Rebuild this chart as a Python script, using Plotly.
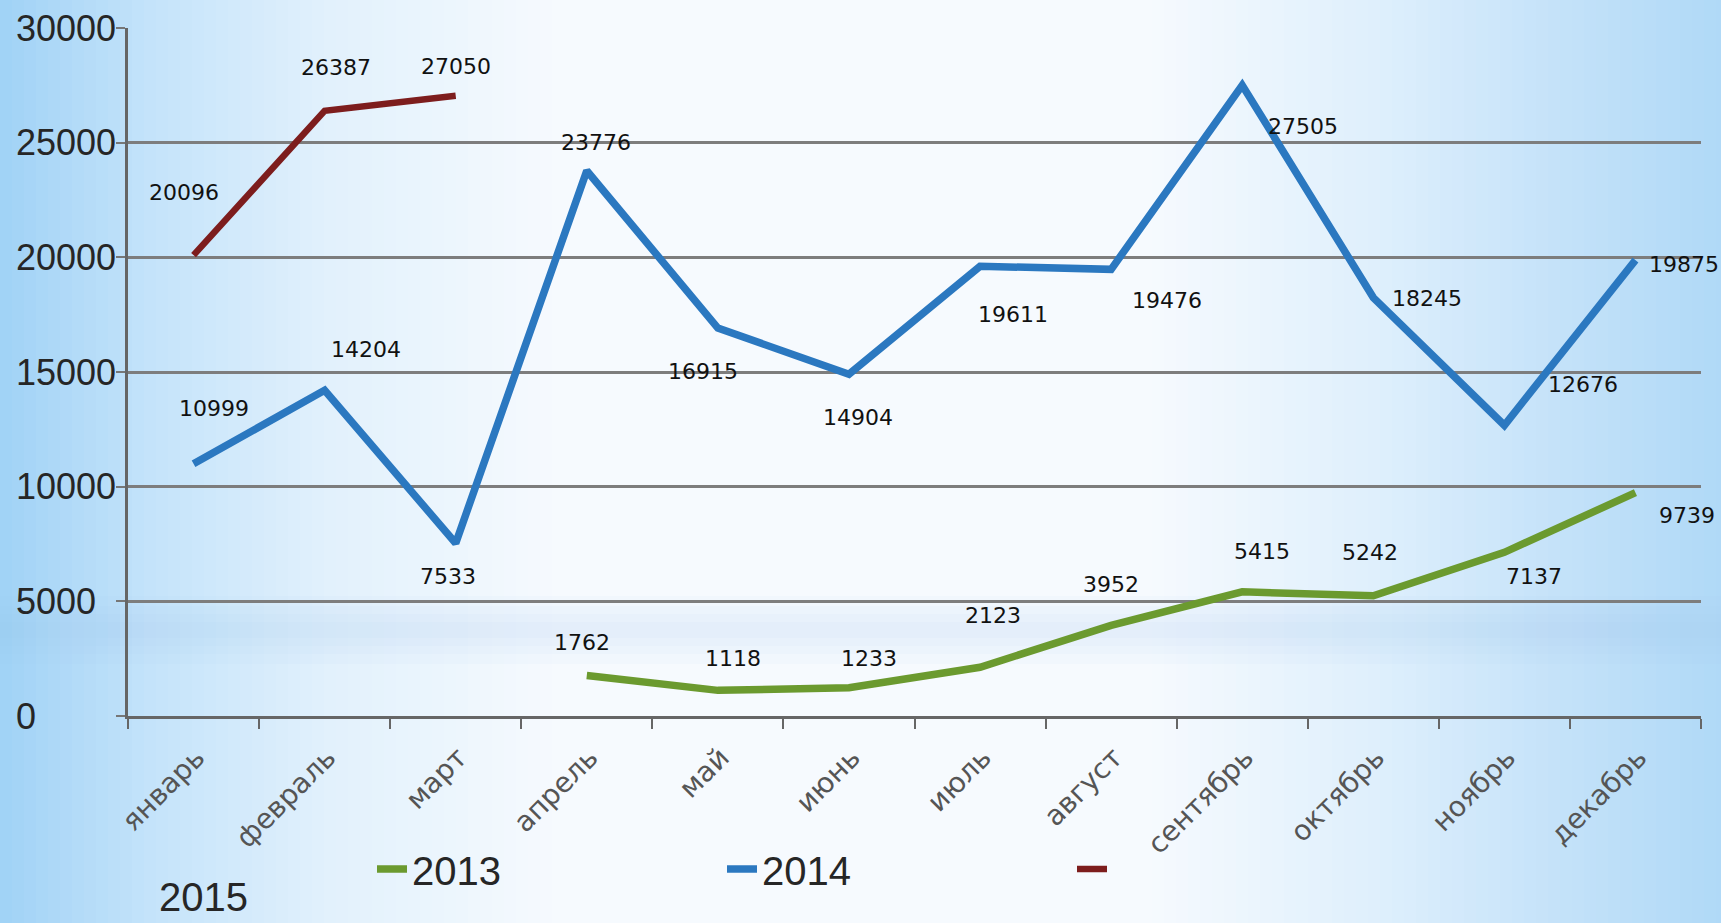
import plotly.graph_objects as go

months = ["январь", "февраль", "март", "апрель", "май", "июнь",
          "июль", "август", "сентябрь", "октябрь", "ноябрь", "декабрь"]
vals_2013 = [None, None, None, 1762, 1118, 1233, 2123, 3952, 5415, 5242, 7137, 9739]
vals_2014 = [10999, 14204, 7533, 23776, 16915, 14904, 19611, 19476, 27505, 18245, 12676, 19875]
vals_2015 = [20096, 26387, 27050, None, None, None, None, None, None, None, None, None]
y_ticks = [0, 5000, 10000, 15000, 20000, 25000, 30000]

# label offsets (px, screen: +x right, +y down) - style only
off_2013 = [None, None, None, (-5, -33), (15, -32), (20, -29), (13, -52), (0, -41), (20, -40), (-3, -43), (30, 24), (52, 23)]
off_2014 = [(20, -55), (41, -41), (-8, 33), (9, -28), (-15, 43), (9, 43), (33, 48), (56, 31), (61, 41), (54, 1), (79, -41), (49, 4)]
off_2015 = [(-10, -63), (11, -43), (0, -29)] + [None] * 9

W, H = 1721, 923
L, R, T, B = 128, 20, 28, 207
PW = W - L - R
PH = H - T - B

C13 = "#6b9a2f"
C14 = "#2b78c0"
C15 = "#7d1d1d"

fig = go.Figure()
fig.add_trace(go.Scatter(x=months, y=vals_2013, name="2013", mode="lines",
                         line=dict(color=C13, width=7.5), connectgaps=False))
fig.add_trace(go.Scatter(x=months, y=vals_2014, name="2014", mode="lines",
                         line=dict(color=C14, width=7.5)))
fig.add_trace(go.Scatter(x=months, y=vals_2015, name=" ", mode="lines",
                         line=dict(color=C15, width=6.5)))

annotations = []
for vals, offs in ((vals_2013, off_2013), (vals_2014, off_2014), (vals_2015, off_2015)):
    for m, v, o in zip(months, vals, offs):
        if v is None:
            continue
        annotations.append(dict(x=m, y=v, xref="x", yref="y", text=str(v), showarrow=False,
                                xshift=o[0], yshift=-o[1],
                                font=dict(family="DejaVu Sans", size=22, color="#111111")))

# y tick labels, left-aligned like the reference
for t in y_ticks:
    annotations.append(dict(x=(14 - L) / PW, y=t, xref="paper", yref="y", text=str(t),
                            showarrow=False, xanchor="left", yanchor="middle",
                            font=dict(family="Liberation Sans", size=36, color="#262626")))

# wrapped legend text of the third series
annotations.append(dict(x=(143 * 1.0976 - L) / PW, y=(T + PH - 873) / PH, xref="paper", yref="paper",
                        text="2015", showarrow=False, xanchor="left", yanchor="top",
                        font=dict(family="Liberation Sans", size=40, color="#262626")))

# background gradient
def bg_color(px):
    stops = [(0, (160, 210, 246)), (150, (196, 227, 250)), (330, (226, 241, 252)),
             (560, (246, 250, 254)), (1150, (246, 250, 254)), (1380, (222, 239, 252)),
             (1560, (196, 226, 249)), (1721, (176, 217, 247))]
    for (x0, c0), (x1, c1) in zip(stops[:-1], stops[1:]):
        if x0 <= px <= x1:
            f = (px - x0) / (x1 - x0)
            return tuple(round(a + (b - a) * f) for a, b in zip(c0, c1))
    return stops[-1][1]

shapes = []
step = 12
for x0 in range(0, W, step):
    c = bg_color(x0 + step / 2)
    shapes.append(dict(type="rect", xref="paper", yref="paper", layer="below",
                       x0=(x0 - L) / PW, x1=(x0 + step + 1 - L) / PW,
                       y0=-B / PH - 0.01, y1=1 + T / PH + 0.01,
                       line=dict(width=0), fillcolor="rgb(%d,%d,%d)" % c))
# soft horizontal band near bottom of plot
for y0p, y1p, a in ((596, 664, 0.05), (606, 654, 0.05), (614, 646, 0.05), (622, 638, 0.05)):
    shapes.append(dict(type="rect", xref="paper", yref="paper", layer="below",
                       x0=-L / PW, x1=1 + R / PW,
                       y0=(T + PH - y1p) / PH, y1=(T + PH - y0p) / PH,
                       line=dict(width=0), fillcolor="rgba(150,200,240,%s)" % a))

fig.update_layout(
    width=W, height=H,
    margin=dict(l=L, r=R, t=T, b=B),
    paper_bgcolor="white", plot_bgcolor="rgba(0,0,0,0)",
    shapes=shapes, annotations=annotations,
    showlegend=True,
    legend=dict(orientation="h", x=(372 - L) / PW, y=(T + PH - 869) / PH,
                xanchor="left", yanchor="middle", bgcolor="rgba(0,0,0,0)",
                entrywidth=305, entrywidthmode="pixels", itemwidth=30,
                font=dict(family="Liberation Sans", size=40, color="#262626")),
    xaxis=dict(type="category", categoryorder="array", categoryarray=months,
               range=[-0.5, len(months) - 0.5],
               tickson="boundaries", ticks="outside", ticklen=10, tickwidth=2, tickcolor="#666666",
               showline=True, linecolor="#666666", linewidth=3, showgrid=False,
               tickangle=-45, ticklabelstandoff=11, ticklabelshift=3,
               tickfont=dict(family="DejaVu Sans", size=28, color="#555555"),
               fixedrange=True),
    yaxis=dict(range=[0, 30000], tickvals=y_ticks, showticklabels=False,
               ticks="outside", ticklen=9, tickwidth=2, tickcolor="#777777",
               showgrid=True, gridcolor="#7d7d7d", gridwidth=2.5,
               showline=True, linecolor="#666666", linewidth=2.5, zeroline=False,
               fixedrange=True),
)

fig.write_html("out.html", config={"displayModeBar": False},
               post_script="document.body.style.margin='0px';document.body.style.overflow='hidden';")
